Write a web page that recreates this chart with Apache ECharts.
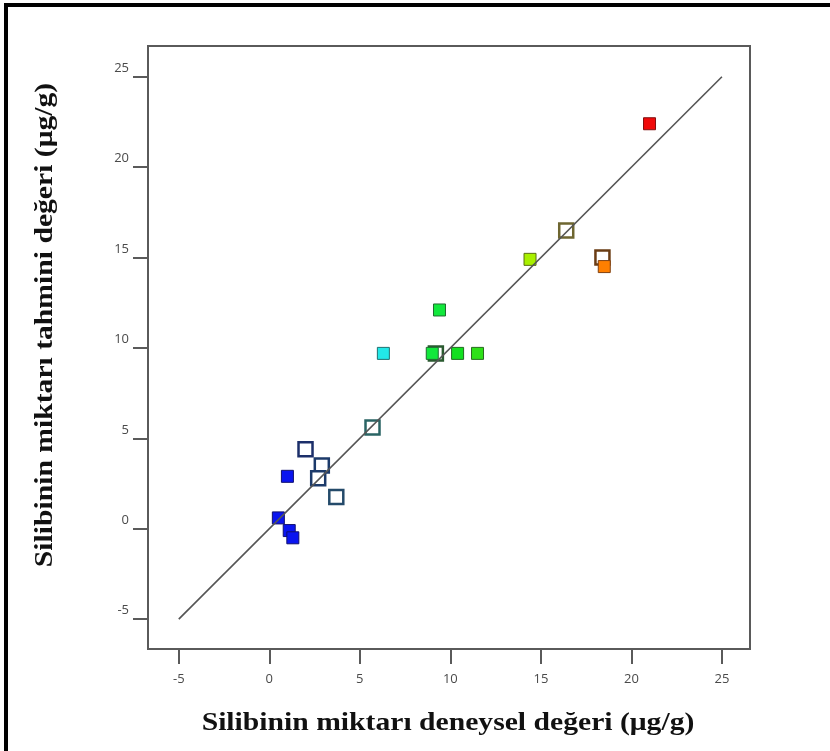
<!DOCTYPE html>
<html>
<head>
<meta charset="utf-8">
<script src="https://cdn.jsdelivr.net/npm/echarts@6/dist/echarts.min.js"></script>
<style>
  html, body { margin: 0; padding: 0; background: #fff; }
  #chart { width: 830px; height: 751px; }
</style>
</head>
<body>
<div id="chart"></div>
<script>
// Axis tick values (shared by both axes)
const tickValues = [-5, 0, 5, 10, 15, 20, 25];

// Axis titles
const xTitle = 'Silibinin miktarı deneysel değeri (μg/g)';
const yTitle = 'Silibinin miktarı tahmini değeri (μg/g)';

// Reference line: predicted = actual
const fitLine = [[-5, -5], [25, 25]];

// Filled runs: [actual, predicted], fill colour, edge colour
const filledActual    = [0.5, 1.0, 1.1, 1.3, 6.3, 9.4, 9.0, 10.4, 11.5, 14.4, 18.5, 21.0];
const filledPredicted = [0.6, 2.9, -0.1, -0.5, 9.7, 12.1, 9.7, 9.7, 9.7, 14.9, 14.5, 22.4];
const filledColors    = ['#0a14f0', '#0a14f0', '#0a14f0', '#0a14f0', '#22e8e8', '#12e83c',
                         '#12e83c', '#12e020', '#2ee018', '#a8f000', '#ff7f00', '#f00a0a'];
const filledEdges     = ['#101070', '#101070', '#101070', '#101070', '#207070', '#206a30',
                         '#206a30', '#206a20', '#286a20', '#5a7010', '#804010', '#801010'];

// Open (centre-point) runs: [actual, predicted], outline colour
const openActual    = [2.0, 2.9, 2.7, 3.7, 5.7, 9.2, 16.4, 18.4];
const openPredicted = [4.4, 3.5, 2.8, 1.75, 5.6, 9.7, 16.5, 15.0];
const openEdges     = ['#1c2f6a', '#1c3a6a', '#1c3a6a', '#244a6a', '#2a6464', '#2a5a30', '#6e6630', '#6a3c14'];

const filledData = filledActual.map((x, i) => ({
  value: [x, filledPredicted[i]],
  itemStyle: { color: filledColors[i], borderColor: filledEdges[i], borderWidth: 1, opacity: 1 }
}));
const openData = openActual.map((x, i) => ({
  value: [x, openPredicted[i]],
  itemStyle: { color: '#ffffff', borderColor: openEdges[i], borderWidth: 2.5, opacity: 1 }
}));

const axisGrey = '#5a5a5a';
const labelStyle = { color: '#4a4a4a', fontFamily: 'Open Sans', fontSize: 13 };
const titleFont = 'bold 26px "Liberation Serif"';

const chart = echarts.init(document.getElementById('chart'), null, { renderer: 'canvas' });
chart.setOption({
  backgroundColor: '#ffffff',
  animation: false,
  grid: {
    left: 148, top: 46, right: 80, bottom: 102,
    show: true, borderColor: axisGrey, borderWidth: 2, backgroundColor: 'transparent'
  },
  xAxis: {
    type: 'value', min: -6.7, max: 26.55,
    axisLine: { show: true, onZero: false, lineStyle: { color: axisGrey, width: 2 } },
    axisTick: { show: true, inside: false, length: 15, customValues: tickValues,
                lineStyle: { color: axisGrey, width: 2 } },
    axisLabel: Object.assign({ customValues: tickValues, margin: 24 }, labelStyle),
    splitLine: { show: false }
  },
  yAxis: {
    type: 'value', min: -6.65, max: 26.7,
    axisLine: { show: true, onZero: false, lineStyle: { color: axisGrey, width: 2 } },
    axisTick: { show: true, inside: false, length: 15, customValues: tickValues,
                lineStyle: { color: axisGrey, width: 2 } },
    axisLabel: Object.assign({ customValues: tickValues, margin: 19,
                               verticalAlign: 'bottom', padding: [0, 0, 2, 0] }, labelStyle),
    splitLine: { show: false }
  },
  series: [
    {
      type: 'scatter', name: 'open', symbol: 'rect', symbolSize: 14,
      data: openData, z: 2
    },
    {
      type: 'scatter', name: 'filled', symbol: 'rect', symbolSize: 12,
      data: filledData, z: 3
    },
    {
      type: 'line', name: 'fit', data: fitLine, showSymbol: false, symbol: 'none',
      lineStyle: { color: '#555555', width: 1.6 }, z: 4, silent: true
    }
  ],
  graphic: [
    // page frame: left and top rules
    { type: 'line', shape: { x1: 6, y1: 3, x2: 6, y2: 751 }, style: { stroke: '#000', lineWidth: 4 } },
    { type: 'line', shape: { x1: 4, y1: 5, x2: 830, y2: 5 }, style: { stroke: '#000', lineWidth: 4 } },
    // axis titles (slightly widened serif lettering)
    { type: 'text', x: 448, y: 723, scaleX: 1.14,
      style: { text: xTitle, font: titleFont, fill: '#111', align: 'center', verticalAlign: 'middle' } },
    { type: 'text', x: 45, y: 325, rotation: Math.PI / 2, scaleX: 1.14,
      style: { text: yTitle, font: titleFont, fill: '#111', align: 'center', verticalAlign: 'middle' } }
  ]
});
</script>
</body>
</html>
